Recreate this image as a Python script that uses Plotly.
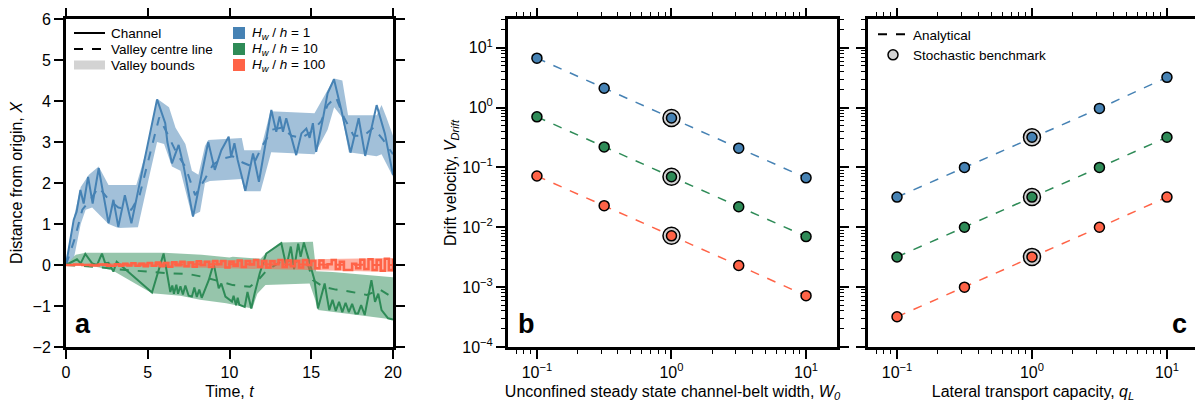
import plotly.graph_objects as go

# ---------------- Panel a data ----------------
t_blue = [0.0,0.47,0.65,0.88,1.08,1.35,1.63,2.0,2.6,2.9,3.2,3.6,4.0,4.85,5.57,6.07,6.2,6.48,6.89,7.2,7.77,8.1,8.3,8.7,9.1,9.5,9.95,10.1,10.3,10.5,10.97,11.44,11.8,12.56,12.86,13.07,13.27,13.47,14.08,14.4,14.7,14.9,15.1,15.3,15.7,16.0,16.39,16.84,17.4,17.75,17.9,18.3,19.0,19.5,20.0]
x_blue = [0.0,1.1,1.3,1.83,1.5,2.15,1.5,2.36,1.02,1.59,0.93,1.7,1.02,2.64,4.04,3.46,3.0,2.48,2.93,2.4,1.18,1.83,2.24,3.0,2.32,2.8,3.13,2.64,2.97,2.56,1.81,2.72,2.03,3.78,3.25,3.62,3.25,3.58,2.68,3.21,3.33,3.1,3.46,2.76,3.54,4.19,4.53,3.78,2.74,3.29,3.58,2.66,3.9,3.21,2.2]
tc_blue = [0,0.5,1.0,1.5,2.0,2.6,3.2,4.0,4.5,5.0,5.7,6.2,6.8,7.3,7.9,8.5,9.0,9.6,10.2,10.8,11.4,12.0,12.6,13.2,13.8,14.4,15.0,15.6,16.0,16.5,17.0,17.6,18.2,18.8,19.4,20.0]
xc_blue = [0,0.6,1.35,1.6,1.9,1.6,1.4,1.35,1.7,2.5,3.6,3.2,2.7,2.4,1.7,2.1,2.45,2.6,2.65,2.5,2.4,2.9,3.3,3.35,3.15,3.1,3.25,3.5,3.9,4.1,3.6,3.15,3.15,3.35,3.05,2.7]
tu_blue = [0,0.5,0.9,1.4,2.0,2.6,4.3,4.85,5.6,6.3,6.7,7.3,7.7,8.1,8.5,8.7,10.75,10.9,11.9,12.5,15.2,15.9,16.4,16.9,17.25,19.0,19.3,19.6,20.0]
up_blue = [0.1,1.2,1.9,2.2,2.4,1.95,1.95,2.7,4.05,3.85,3.35,2.95,2.3,2.2,2.9,3.05,3.1,2.8,2.8,3.75,3.7,4.2,4.55,4.5,3.65,3.65,3.9,3.6,3.15]
tl_blue = [0,0.5,0.9,1.2,1.6,2.6,3.2,4.4,5.0,5.57,6.0,6.48,7.0,7.7,8.2,8.5,8.8,10.75,10.9,11.9,12.55,15.2,16.0,16.4,16.9,17.3,19.0,19.3,20.0]
lo_blue = [0,0.2,1.0,1.35,1.4,1.0,0.9,0.92,2.0,3.0,2.95,2.4,2.3,1.2,1.3,2.0,2.05,2.1,1.8,1.8,2.75,2.7,3.3,3.85,3.6,2.75,2.65,2.7,2.15]

t_green = [0,0.67,0.9,1.18,1.6,1.9,2.2,2.4,2.6,2.9,3.1,5.26,5.97,6.38,6.5,6.6,6.75,6.85,7.0,7.15,7.3,7.5,7.7,7.85,8.0,8.15,8.3,8.73,9.03,9.34,9.5,9.75,10.15,10.25,10.4,10.5,10.6,10.93,11.1,11.33,11.54,11.85,12.25,13.17,13.48,13.75,13.95,14.2,14.35,14.55,15.2,15.41,15.82,16.1,16.3,16.5,16.7,16.9,17.1,17.3,17.5,17.7,17.86,18.05,18.27,18.68,18.9,19.1,19.3,19.7,20.0]
x_green = [0,0.14,0.04,0.27,0.04,0.0,0.28,0.04,0.05,-0.16,0.08,-0.67,0.28,-0.66,-0.5,-0.7,-0.48,-0.7,-0.52,-0.72,-0.5,-0.75,-0.77,-0.55,-0.78,-0.6,-0.8,-0.37,0.04,-0.57,-0.45,-0.77,-0.89,-0.75,-0.98,-0.8,-0.97,-1.02,-0.66,-1.06,-0.69,-0.2,0.28,0.53,-0.04,0.45,-0.1,0.52,0.2,0.55,-0.37,-1.06,-0.45,-1.1,-0.85,-1.12,-0.9,-1.15,-0.92,-1.15,-0.95,-1.18,-1.18,-0.98,-1.22,-0.37,-0.9,-0.7,-1.1,-1.3,-1.33]
tc_green = [0,2.0,3.0,4.5,6.2,7.5,8.5,9.4,10.2,11.25,11.8,12.3,13.3,14.3,14.8,15.1,15.74,16.5,17.4,18.4,19.2,20.0]
xc_green = [0,-0.05,-0.1,-0.15,-0.2,-0.22,-0.3,-0.4,-0.49,-0.53,-0.35,-0.12,0.12,0.08,0.0,-0.37,-0.53,-0.6,-0.65,-0.73,-0.6,-0.8]
tu_green = [0,0.6,1.2,6.0,8.3,10.0,10.2,11.9,12.25,13.1,15.1,15.3,16.3,20.0]
up_green = [0,0.25,0.3,0.3,0.25,0.18,0.2,0.15,0.3,0.55,0.57,-0.15,-0.17,-0.3]
tl_green = [0,1.5,2.8,5.26,7.0,8.2,9.8,11.4,11.7,12.2,14.9,15.2,15.41,17.0,18.5,20.0]
lo_green = [0,-0.02,-0.12,-0.69,-0.75,-0.85,-0.93,-1.06,-0.7,-0.49,-0.45,-0.8,-1.1,-1.18,-1.26,-1.33]

t_red = [0,0.5,1.0,1.5,2.0,2.5,3.0,3.25,3.5,3.75,4.0,4.25,4.5,4.75,5.0,5.25,5.5,5.75,6.0,6.25,6.5,6.75,7.0,7.25,7.5,7.75,8.0,8.25,8.5,8.75,9.0,9.25,9.5,9.75,10.0,10.25,10.5,10.75,11.0,11.25,11.5,11.75,12.0,12.25,12.5,12.75,13.0,13.25,13.5,13.75,14.0,14.25,14.5,14.75,15.0,15.25,15.5,15.75,16.0,16.25,16.5,16.75,17.0,17.25,17.5,17.75,18.0,18.25,18.5,18.75,19.0,19.25,19.5,19.75,20.0]
x_red = [0.0,0.01,0.0,-0.01,0.01,-0.02,0.02,-0.02,0.03,-0.01,0.04,-0.02,0.03,-0.03,0.05,-0.02,0.06,-0.03,0.05,-0.04,0.07,0.0,0.08,-0.03,0.06,-0.04,0.09,0.0,0.08,-0.05,0.1,0.02,0.1,-0.06,0.08,-0.02,0.11,-0.05,0.1,0.01,0.12,-0.04,0.1,-0.06,0.09,0.02,0.12,-0.05,0.11,-0.03,0.1,-0.06,0.12,0.0,0.1,-0.08,0.11,-0.06,0.02,0.12,-0.1,0.08,-0.12,-0.12,0.03,-0.08,0.13,-0.1,0.14,-0.12,0.12,-0.14,0.15,-0.12,0.15]
tc_red = [0,5,10,15,20]
xc_red = [0,0.01,0.02,0.01,0.0]
tu_red = [0,3,6,10,15,20]
up_red = [0.01,0.04,0.08,0.12,0.14,0.17]
tl_red = [0,3,6,10,15,20]
lo_red = [-0.01,-0.03,-0.05,-0.08,-0.12,-0.17]

# ---------------- Panels b, c data ----------------
xvals = [0.1, 0.316, 1.0, 3.16, 10.0]
b_blue = [6.7, 2.1, 0.67, 0.21, 0.067]
b_green = [0.7, 0.22, 0.07, 0.022, 0.007]
b_red = [0.072, 0.023, 0.0072, 0.0023, 0.00072]
c_blue = [0.032, 0.1, 0.32, 0.97, 3.2]
c_green = [0.0032, 0.01, 0.032, 0.1, 0.32]
c_red = [0.00032, 0.001, 0.0032, 0.01, 0.032]
bench_x = [1.0, 1.0, 1.0]
bench_b = [0.67, 0.07, 0.0072]
bench_c = [0.32, 0.032, 0.0032]

legend_a_names = ["Channel", "Valley centre line", "Valley bounds"]
labels_h = ["<i>H</i><sub><i>w</i></sub> / <i>h</i> = 1",
            "<i>H</i><sub><i>w</i></sub> / <i>h</i> = 10",
            "<i>H</i><sub><i>w</i></sub> / <i>h</i> = 100"]

BLUE = "#4682B4"
GREEN = "#2E8B57"
RED = "#FF6347"
FILL = {BLUE: "rgba(70,130,180,0.5)", GREEN: "rgba(46,139,87,0.5)", RED: "rgba(255,99,71,0.5)"}

# the page places the figure 8 px from the window's top-left corner
OFF = 8
W, H = 1203 - OFF, 403 - OFF
FONT = "Liberation Sans, Arial, Helvetica, sans-serif"

def px(x):  # window pixel -> paper x
    return (x - OFF) / W

def py(y):  # window pixel -> paper y
    return 1 - (y - OFF) / H

fig = go.Figure()

def add_series(t, x, tc, xc, tu, up, tl, lo, col, shape="linear", lw=2):
    fig.add_trace(go.Scatter(x=tu + tl[::-1], y=up + lo[::-1], fill="toself", fillcolor=FILL[col],
                             line=dict(width=0), mode="lines", showlegend=False, hoverinfo="skip",
                             xaxis="x", yaxis="y"))
    fig.add_trace(go.Scatter(x=tc, y=xc, mode="lines", line=dict(color=col, width=2, dash="dash"),
                             showlegend=False, xaxis="x", yaxis="y"))
    fig.add_trace(go.Scatter(x=t, y=x, mode="lines", line=dict(color=col, width=lw, shape=shape),
                             showlegend=False, xaxis="x", yaxis="y"))

add_series(t_blue, x_blue, tc_blue, xc_blue, tu_blue, up_blue, tl_blue, lo_blue, BLUE)
add_series(t_green, x_green, tc_green, xc_green, tu_green, up_green, tl_green, lo_green, GREEN)
add_series(t_red, x_red, tc_red, xc_red, tu_red, up_red, tl_red, lo_red, RED, shape="hv", lw=2.5)

# panels b and c
for xa, ya, sets, bench in [("x2", "y2", [b_blue, b_green, b_red], bench_b),
                            ("x3", "y3", [c_blue, c_green, c_red], bench_c)]:
    for vals, col in zip(sets, [BLUE, GREEN, RED]):
        fig.add_trace(go.Scatter(x=xvals, y=vals, mode="lines", line=dict(color=col, width=1.5, dash="dash"),
                                 showlegend=False, xaxis=xa, yaxis=ya))
    fig.add_trace(go.Scatter(x=bench_x, y=bench, mode="markers",
                             marker=dict(size=17, color="#D3D3D3", line=dict(color="black", width=1.5)),
                             showlegend=False, xaxis=xa, yaxis=ya))
    for vals, col in zip(sets, [BLUE, GREEN, RED]):
        fig.add_trace(go.Scatter(x=xvals, y=vals, mode="markers",
                                 marker=dict(size=10, color=col, line=dict(color="black", width=1.5)),
                                 showlegend=False, xaxis=xa, yaxis=ya))

fig.add_trace(go.Scatter(x=[None], y=[None], mode="lines", line=dict(color="black", width=2, dash="dash"),
                         name="Analytical", legend="legend", xaxis="x3", yaxis="y3"))
fig.add_trace(go.Scatter(x=[None], y=[None], mode="markers",
                         marker=dict(size=10, color="#D3D3D3", line=dict(color="black", width=1.5)),
                         name="Stochastic benchmark", legend="legend", xaxis="x3", yaxis="y3"))

# ---- panel a legend (keys as paper shapes, labels as text) ----
rows = [33, 49, 65]
key_styles = [dict(color="black", width=2, dash="solid"),
              dict(color="black", width=2, dash="dash"),
              dict(color="#D3D3D3", width=9, dash="solid")]
for yy, name, st in zip(rows, legend_a_names, key_styles):
    fig.add_shape(type="line", xref="paper", yref="paper", x0=px(74), x1=px(105), y0=py(yy), y1=py(yy),
                  line=st)
    fig.add_annotation(text=name, x=px(109), y=py(yy), xref="paper", yref="paper", xanchor="left",
                       yanchor="middle", showarrow=False, font=dict(size=13.5, family=FONT, color="black"))
for yy, name, col in zip(rows, labels_h, [BLUE, GREEN, RED]):
    fig.add_shape(type="rect", xref="paper", yref="paper", x0=px(233), x1=px(245), y0=py(yy - 6), y1=py(yy + 6),
                  fillcolor=col, line=dict(width=0))
    fig.add_annotation(text=name, x=px(250), y=py(yy), xref="paper", yref="paper", xanchor="left",
                       yanchor="middle", showarrow=False, font=dict(size=13.5, family=FONT, color="black"))

ydom = [py(347), py(19)]

common = dict(showline=True, linewidth=3, linecolor="black", mirror="allticks", ticks="outside",
              ticklen=9, tickwidth=1.5, tickcolor="black", showgrid=False, zeroline=False, automargin=False,
              tickfont=dict(size=16, color="black", family=FONT),
              title_font=dict(size=16, color="black", family=FONT))

minor_vals = []
for e in [1e-5, 1e-4, 1e-3, 1e-2, 1e-1, 1, 10]:
    for k in range(2, 10):
        minor_vals.append(k * e)
minor = dict(tickmode="array", tickvals=minor_vals, ticks="outside", ticklen=4, tickwidth=1, tickcolor="black", showgrid=False)

def sup(e):
    return "10<sup>" + (("\u2212" + str(-e)) if e < 0 else str(e)) + "</sup>"

xlog_vals = [0.1, 1, 10]
xlog_text = [sup(-1), sup(0), sup(1)]
ylog_vals = [1e-4, 1e-3, 1e-2, 1e-1, 1, 10]
ylog_text = [sup(-4), sup(-3), sup(-2), sup(-1), sup(0), sup(1)]

fig.update_layout(
    width=W, height=H, margin=dict(l=0, r=0, t=0, b=0, autoexpand=False),
    paper_bgcolor="white", plot_bgcolor="white",
    font=dict(family=FONT, color="black"),
    xaxis=dict(domain=[px(66), px(393)], range=[0, 20], tickvals=[0, 5, 10, 15, 20],
               title=dict(text="Time, <i>t</i>", standoff=6), anchor="y", **common),
    yaxis=dict(domain=ydom, range=[-2, 6], tickvals=list(range(-2, 7)),
               title=dict(text="Distance from origin, <i>X</i>", standoff=7), anchor="x", **common),
    xaxis2=dict(domain=[px(508), px(837)], type="log", range=[-1.215, 1.23], tickvals=xlog_vals, ticktext=xlog_text,
                minor=minor, title=dict(text="Unconfined steady state channel-belt width, <i>W</i><sub><i>0</i></sub>", standoff=6),
                anchor="y2", **common),
    yaxis2=dict(domain=ydom, type="log", range=[-4, 1.48], tickvals=ylog_vals, ticktext=ylog_text, minor=minor,
                title=dict(text="Drift velocity, <i>V</i><sub><i>Drift</i></sub>", standoff=2), anchor="x2", **common),
    xaxis3=dict(domain=[px(868), px(1198)], type="log", range=[-1.215, 1.23], tickvals=xlog_vals, ticktext=xlog_text,
                minor=minor, title=dict(text="Lateral transport capacity, <i>q</i><sub><i>L</i></sub>", standoff=6),
                anchor="y3", **common),
    yaxis3=dict(domain=ydom, type="log", range=[-4, 1.48], tickvals=ylog_vals, showticklabels=False, minor=minor,
                anchor="x3", **common),
    legend=dict(x=px(873), y=py(19), xanchor="left", yanchor="top", bgcolor="rgba(0,0,0,0)",
                font=dict(size=13.5, family=FONT, color="black"), tracegroupgap=0),
    showlegend=True,
)

for letter, x, anchor in [("a", 73, "left"), ("b", 516, "left"), ("c", 1189, "right")]:
    fig.add_annotation(text="<b>" + letter + "</b>", x=px(x), y=py(341), xref="paper", yref="paper",
                       xanchor=anchor, yanchor="bottom", showarrow=False,
                       font=dict(size=27, family=FONT, color="black"))

fig.write_html("out.html")
